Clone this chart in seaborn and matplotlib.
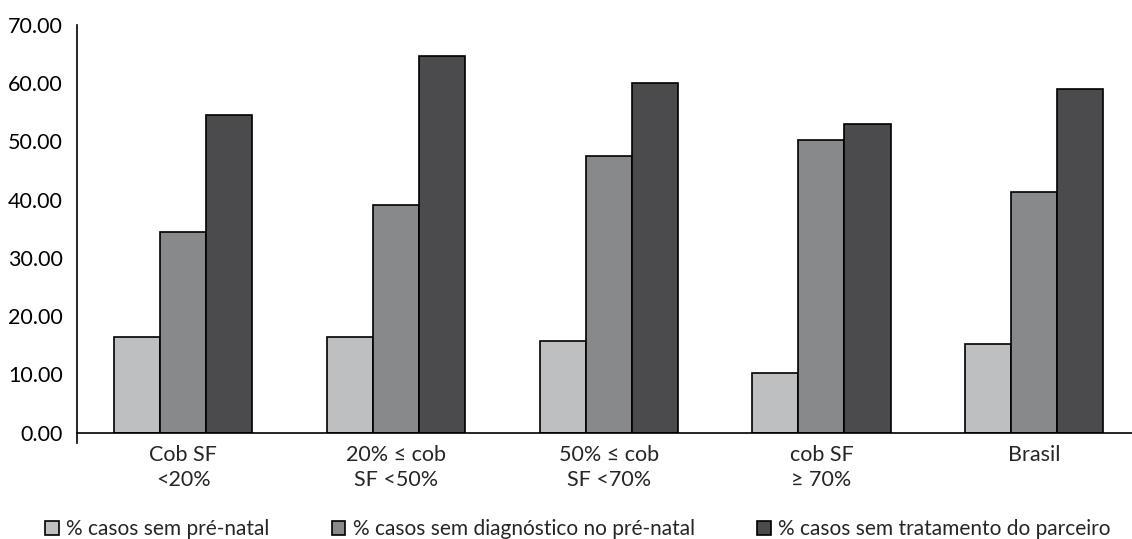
import numpy as np
import pandas as pd
import matplotlib
matplotlib.use("Agg")
import matplotlib.pyplot as plt
import seaborn as sns

# values
categorias = ["Cob SF\n<20%", "20% \u2264 cob\nSF <50%", "50% \u2264 cob\nSF <70%", "cob SF\n\u2265 70%", "Brasil"]
series = ["% casos sem pr\u00e9-natal",
          "% casos sem diagn\u00f3stico no pr\u00e9-natal",
          "% casos sem tratamento do parceiro"]
sem_prenatal = [16.4, 16.4, 15.8, 10.3, 15.2]
sem_diagnostico = [34.4, 39.1, 47.5, 50.3, 41.4]
sem_tratamento = [54.5, 64.7, 60.0, 53.0, 59.0]
cores = ["#bebfc1", "#88898b", "#4b4b4d"]

df = pd.DataFrame({
    "categoria": categorias * 3,
    "serie": np.repeat(series, len(categorias)),
    "valor": sem_prenatal + sem_diagnostico + sem_tratamento,
})

sns.set_style("white")
plt.rcParams['font.family'] = ['Lato', 'DejaVu Sans']
fs = 15.5

fig = plt.figure(figsize=(11.32, 5.39), dpi=100)
ax = fig.add_axes([77 / 1132, 1 - 432.7 / 539, 1 - 77 / 1132, (432.7 - 25) / 539])

sns.barplot(data=df, x="categoria", y="valor", hue="serie", order=categorias,
            hue_order=series, palette=cores, width=0.65, gap=0,
            edgecolor="black", linewidth=1.2, saturation=1, ax=ax, legend=True)

ax.set_xlim(-0.5, 4.46)
ax.set_ylim(0, 70)
ax.set_yticks(np.arange(0, 71, 10))
ax.set_yticklabels([f"{v:.2f}" for v in np.arange(0, 71, 10)], fontsize=fs)
ax.set_xticks(range(len(categorias)))
ax.set_xticklabels(categorias, fontsize=fs, linespacing=1.3)
ax.tick_params(axis="x", length=0, pad=9)
ax.tick_params(axis="y", length=7, width=1, direction="out", pad=3, colors="black")
ax.set_xticks(np.arange(0.5, 4.5, 1), minor=True)
ax.tick_params(axis="x", which="minor", length=4, width=1, direction="out")
ax.set_xlabel("")
ax.set_ylabel("")
for s in ["top", "right"]:
    ax.spines[s].set_visible(False)
for s in ["left", "bottom"]:
    ax.spines[s].set_color("black")
    ax.spines[s].set_linewidth(1.2)
ax.spines["left"].set_bounds(-1.8, 70)

handles, labels = ax.get_legend_handles_labels()
ax.get_legend().remove()
fig.legend(handles, labels, loc="center left", bbox_to_anchor=(45 / 1132, 1 - 529 / 539),
           ncol=3, frameon=False, fontsize=15, handlelength=0.65, handleheight=0.65,
           handletextpad=0.35, columnspacing=3.0, borderaxespad=0, borderpad=0)

fig.savefig("out.png", dpi=100)
